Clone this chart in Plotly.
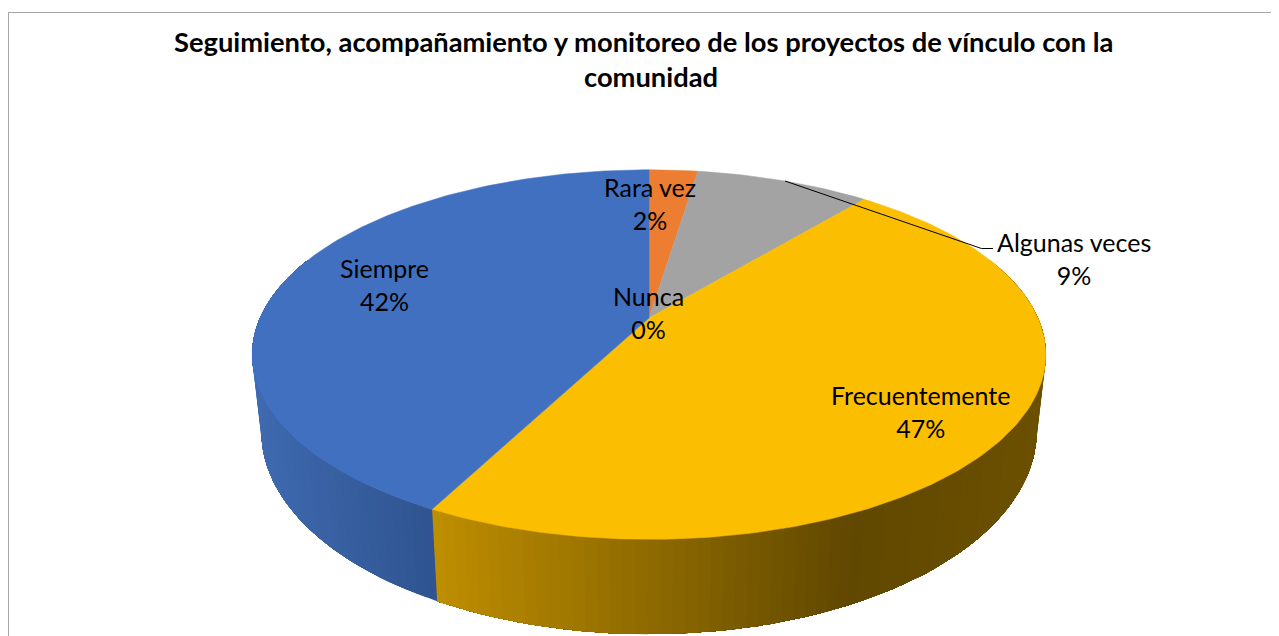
import math
import plotly.graph_objects as go

# ---- data ----
categories = ["Nunca", "Rara vez", "Algunas veces", "Frecuentemente", "Siempre"]
values = [0.0, 2.4, 8.6, 46.6, 42.4]
title_lines = ["Seguimiento, acompañamiento y monitoreo de los proyectos de vínculo con la", "comunidad"]

# ---- styles ----
top_colors = ["#5B9BD5", "#ED7D31", "#A3A3A3", "#FBBE00", "#4170C0"]
wall_stops = {
    3: [(430, "#bf8f00"), (850, "#614800"), (1045, "#6b5000")],
    4: [(255, "#3f6ab0"), (430, "#2f5490")],
}
label_pos = {"Nunca": (648, 312), "Rara vez": (650, 203), "Algunas veces": (1074, 258),
             "Frecuentemente": (920, 411.5), "Siempre": (384, 284)}
title_pos = [(643.5, 41.5), (651, 76.5)]
W, H = 1279, 636
PAGE_MARGIN = 8  # the page body offsets the figure
CX = 649
P = 0.198
TOP = dict(a=389.0, b=177.5, c=318.0)
BOT = dict(a=380.0, b=195.0, c=391.0)


def project(frac, face):
    t = 2 * math.pi * frac
    ux, uy = math.sin(t), math.cos(t)
    w = 1 + P * uy
    return CX + face["a"] * ux / w, face["c"] - face["b"] * uy / w


def hex2rgb(h):
    return tuple(int(h[i:i + 2], 16) for i in (1, 3, 5))


def grad(stops, x):
    if x <= stops[0][0]:
        return stops[0][1]
    for (x0, c0), (x1, c1) in zip(stops, stops[1:]):
        if x <= x1:
            k = (x - x0) / (x1 - x0)
            a, b = hex2rgb(c0), hex2rgb(c1)
            return "rgb(%d,%d,%d)" % tuple(round(p + (q - p) * k) for p, q in zip(a, b))
    return stops[-1][1]


def visible(f):
    return math.cos(2 * math.pi * f) <= 0.35


total = sum(values)
edges = [0.0]
for v in values:
    edges.append(edges[-1] + v / total)

fig = go.Figure()

# side wall: each band runs on to the slice's visible end and the next band paints over it,
# so no background shows through between bands
for i, name in enumerate(categories):
    if i not in wall_stops:
        continue
    f0, f1 = edges[i], edges[i + 1]
    n = max(2, int((f1 - f0) * 240))
    steps = [f0 + (f1 - f0) * j / n for j in range(n + 1)]
    steps = [s for s in steps if visible(s)]
    for j in range(len(steps) - 1):
        arc = steps[j:]
        top = [project(s, TOP) for s in arc]
        bot = [project(s, BOT) for s in reversed(arc)]
        poly = top + bot + top[:1]
        col = grad(wall_stops[i], (top[0][0] + project(arc[1], TOP)[0]) / 2)
        fig.add_trace(go.Scatter(
            x=[p[0] for p in poly], y=[p[1] for p in poly],
            mode="lines", fill="toself", fillcolor=col, line=dict(width=0),
            hoverinfo="skip", showlegend=False))

for i, name in enumerate(categories):
    f0, f1 = edges[i], edges[i + 1]
    if f1 <= f0:
        continue
    n = max(12, int((f1 - f0) * 360))
    pts = [project(f0 + (f1 - f0) * j / n, TOP) for j in range(n + 1)]
    xs = [CX] + [p[0] for p in pts] + [CX]
    ys = [TOP["c"]] + [p[1] for p in pts] + [TOP["c"]]
    fig.add_trace(go.Scatter(x=xs, y=ys, mode="lines", fill="toself", fillcolor=top_colors[i],
                             line=dict(color=top_colors[i], width=0.5), name=name,
                             hoverinfo="name", showlegend=False))

# leader line of the "Algunas veces" label
fig.add_trace(go.Scatter(x=[785, 981.5, 993], y=[181, 248.5, 248.5], mode="lines",
                         line=dict(color="#000000", width=1), hoverinfo="skip", showlegend=False))

annotations = []
for name, v in zip(categories, values):
    lx, ly = label_pos[name]
    annotations.append(dict(x=lx, y=ly, xref="x", yref="y", showarrow=False,
                            text="%s<br>%d%%" % (name, round(v)), align="center",
                            font=dict(family="Lato", size=25, color="#000000")))
for line, (tx, ty) in zip(title_lines, title_pos):
    annotations.append(dict(x=tx, y=ty, xref="x", yref="y", showarrow=False, align="center",
                            text="<b>" + line + "</b>",
                            font=dict(family="Lato", size=27.3, color="#000000")))

fig.update_layout(
    width=W - PAGE_MARGIN, height=H - PAGE_MARGIN, autosize=False,
    margin=dict(l=0, r=0, t=0, b=0),
    paper_bgcolor="#ffffff", plot_bgcolor="#ffffff",
    xaxis=dict(range=[PAGE_MARGIN, W], visible=False, fixedrange=True),
    yaxis=dict(range=[H, PAGE_MARGIN], visible=False, fixedrange=True),
    annotations=annotations,
    shapes=[dict(type="rect", xref="x", yref="y", x0=8.5, y0=12.5, x1=1400, y1=800,
                 line=dict(color="#a6a6a6", width=1), layer="below")],
)
fig.write_html("out.html", config=dict(displayModeBar=False))
